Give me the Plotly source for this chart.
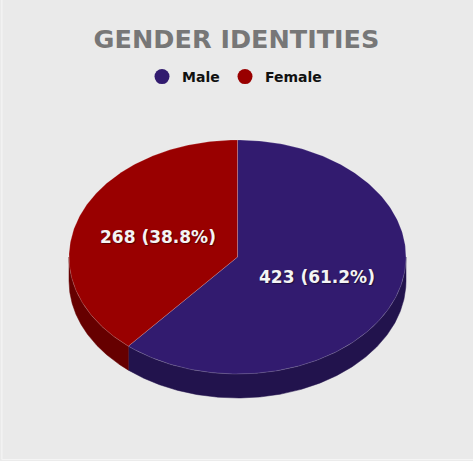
import numpy as np
import plotly.graph_objects as go

# ---- data ----
labels = ["Male", "Female"]
values = [423, 268]
top_colors = ["#321b6f", "#990000"]
side_colors = ["#22134d", "#660000"]
title_text = "GENDER IDENTITIES"

# ---- geometry (pixels, y grows downward) ----
W, H = 473, 461
cx, cy, rx, ry, depth = 237.5, 257.0, 168.5, 117.0, 24.0
legend_left = [142, 225]

total = float(sum(values))
fracs = [v / total for v in values]
starts = np.cumsum([0.0] + fracs[:-1]) * 360.0
ends = np.cumsum(fracs) * 360.0


def ring(a0, a1, n=240, dy=0.0):
    phi = np.radians(np.linspace(a0, a1, n))
    return cx + rx * np.sin(phi), cy - ry * np.cos(phi) + dy


fig = go.Figure()

# side walls (front half only: 90..270 deg clockwise from top)
for lab, a0, a1, sc in zip(labels, starts, ends, side_colors):
    s0, s1 = max(a0, 90.0), min(a1, 270.0)
    if s1 <= s0:
        continue
    xt, yt = ring(s0, s1)
    xb, yb = ring(s0, s1, dy=depth)
    xs = np.concatenate([xt, xb[::-1], xt[:1]])
    ys = np.concatenate([yt, yb[::-1], yt[:1]])
    fig.add_trace(go.Scatter(x=xs, y=ys, fill="toself", mode="lines",
                             fillcolor=sc, line=dict(color=sc, width=0.5),
                             showlegend=False, hoverinfo="skip"))

# top faces
for lab, a0, a1, tc in zip(labels, starts, ends, top_colors):
    xa, ya = ring(a0, a1)
    xs = np.concatenate([[cx], xa, [cx]])
    ys = np.concatenate([[cy], ya, [cy]])
    fig.add_trace(go.Scatter(x=xs, y=ys, fill="toself", mode="lines",
                             fillcolor=tc,
                             line=dict(color="rgba(255,255,255,0.25)", width=0.7),
                             showlegend=False, hoverinfo="skip"))

# legend entries (one legend box each so spacing can match)
legend_names = ["legend", "legend2"]
for lab, tc, lg in zip(labels, top_colors, legend_names):
    fig.add_trace(go.Scatter(x=[None], y=[None], mode="markers", name=lab,
                             legend=lg,
                             marker=dict(size=15, color=tc, symbol="circle"),
                             hoverinfo="skip"))

# value labels
for v, f, a0, a1 in zip(values, fracs, starts, ends):
    mid = np.radians((a0 + a1) / 2.0)
    fig.add_annotation(x=cx + 0.5 * rx * np.sin(mid), y=cy - 0.5 * ry * np.cos(mid),
                       text=f"{v} ({f*100:.1f}%)", showarrow=False,
                       xanchor="center", yanchor="middle",
                       font=dict(family="DejaVu Sans", size=17, color="#f4f4f4",
                                 weight="bold",
                                 shadow="1px 1px 1px rgba(0,0,0,0.45)"))

leg_common = dict(orientation="h", xanchor="left",
                  y=1 - 77 / H, yanchor="middle",
                  font=dict(family="DejaVu Sans", size=14, color="#111111",
                            weight="bold"),
                  bgcolor="rgba(0,0,0,0)", itemclick=False, itemdoubleclick=False)

fig.update_layout(
    width=W, height=H,
    margin=dict(l=0, r=0, t=0, b=0),
    paper_bgcolor="#eaeaea", plot_bgcolor="#eaeaea",
    title=dict(text=title_text, x=0.5, xanchor="center", xref="container",
               y=1 - 39 / H, yanchor="middle", yref="container",
               font=dict(family="DejaVu Sans", size=25.5, color="#777777",
                         weight="bold")),
    legend=dict(x=legend_left[0] / W, **leg_common),
    legend2=dict(x=legend_left[1] / W, **leg_common),
    xaxis=dict(range=[0, W], visible=False, fixedrange=True),
    yaxis=dict(range=[H, 0], visible=False, fixedrange=True),
    shapes=[dict(type="rect", xref="paper", yref="paper", x0=0.004, x1=1.01,
                 y0=0.003, y1=1.01, line=dict(color="#f7f7f7", width=1),
                 fillcolor="rgba(0,0,0,0)", layer="below")],
)

fig.write_html("out.html", config={"displayModeBar": False},
               post_script="document.body.style.margin='0';"
                           "document.body.style.background='#eaeaea';")
